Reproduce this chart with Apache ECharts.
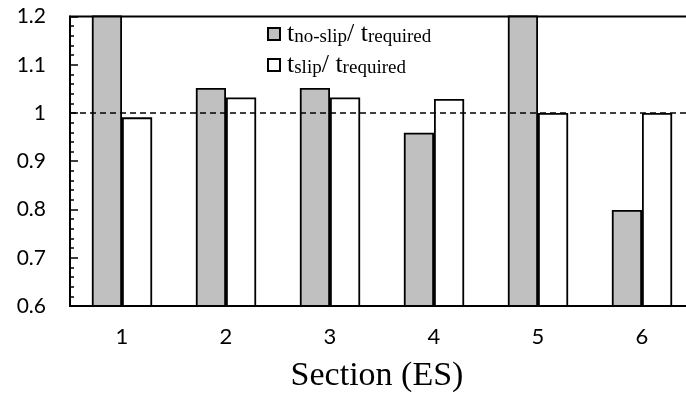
<!DOCTYPE html>
<html><head><meta charset="utf-8">
<script src="https://cdn.jsdelivr.net/npm/echarts@6/dist/echarts.min.js"></script>
<style>html,body{margin:0;padding:0;background:#fff}#c{width:686px;height:395px}</style>
</head><body><div id="c"></div>
<script>
const categories = ['1', '2', '3', '4', '5', '6'];
const noSlip = [1.3, 1.052, 1.052, 0.959, 1.3, 0.799];
const slip = [0.991, 1.032, 1.032, 1.029, 1.0, 1.0];
const yTicks = [0.6, 0.7, 0.8, 0.9, 1, 1.1, 1.2];
const refLine = 1;
const seriesNames = ['noslip', 'slip'];

const chart = echarts.init(document.getElementById('c'), null, {renderer: 'canvas'});
const sans = 'Lato';
const serif = '"Liberation Serif", "Times New Roman", serif';
const rich = {
  t: {fontFamily: serif, fontSize: 26, lineHeight: 26, verticalAlign: 'top', color: '#000'},
  s: {fontFamily: serif, fontSize: 19, lineHeight: 20, padding: [10, 0, 0, 0], verticalAlign: 'bottom', color: '#000'}
};
chart.setOption({
  animation: false,
  grid: {left: 70, right: -8, top: 16.5, bottom: 89, outerBoundsMode: 'none', containLabel: false,
    show: true, borderColor: '#000', borderWidth: 2, backgroundColor: 'transparent'},
  legend: {
    orient: 'vertical', left: 262, top: 13, itemGap: 2, itemWidth: 12, itemHeight: 12,
    icon: 'rect', selectedMode: false,
    data: seriesNames,
    formatter: function (n) {
      return n === 'noslip' ? '{t|t}{s|no-slip}{t|/ t}{s|required}' : '{t|t}{s|slip}{t|/ t}{s|required}';
    },
    textStyle: {rich: rich, padding: [0, 0, 0, 2]}
  },
  xAxis: {
    type: 'category', data: categories,
    name: 'Section (ES)', nameLocation: 'middle', nameGap: 53,
    nameTextStyle: {fontFamily: serif, fontSize: 34, color: '#000', padding: [0, 10, 0, 0]},
    axisLine: {lineStyle: {color: '#000', width: 2}},
    axisTick: {inside: true, length: 8, lineStyle: {color: '#000', width: 1.5}},
    axisLabel: {fontFamily: sans, fontSize: 22, color: '#000', margin: 20}
  },
  yAxis: {
    type: 'value', min: yTicks[0], max: yTicks[yTicks.length - 1], interval: 0.1,
    splitLine: {show: false},
    axisLine: {show: true, lineStyle: {color: '#000', width: 2}},
    axisTick: {show: true, inside: true, length: 8, lineStyle: {color: '#000', width: 1.5}},
    minorTick: {show: true, splitNumber: 5, length: 4, lineStyle: {color: '#000', width: 1.5}},
    axisLabel: {fontFamily: sans, fontSize: 21, color: '#000', margin: 24,
      formatter: v => String(Math.round(v * 10) / 10)}
  },
  series: [
    {name: 'noslip', type: 'bar', data: noSlip, barGap: '0%', barCategoryGap: '42%', clip: true,
      itemStyle: {color: '#c0c0c0', borderColor: '#000', borderWidth: 1.8},
      markLine: {silent: true, symbol: 'none', label: {show: false},
        lineStyle: {color: '#000', type: [6, 4], width: 1.5},
        data: [{yAxis: refLine}]}
    },
    {name: 'slip', type: 'bar', data: slip, clip: true,
      itemStyle: {color: '#ffffff', borderColor: '#000', borderWidth: 1.8}}
  ]
});
</script></body></html>
